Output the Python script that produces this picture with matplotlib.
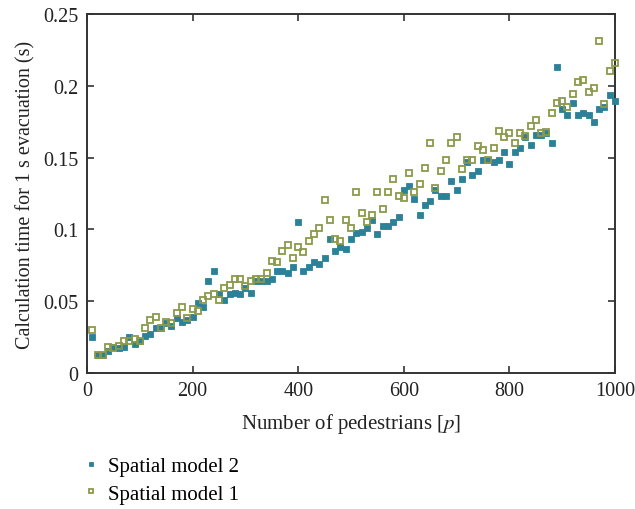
import matplotlib
matplotlib.use("Agg")
import matplotlib.pyplot as plt
from matplotlib.ticker import FuncFormatter

pedestrians = list(range(10, 1001, 10))

model2 = [
    0.0248, 0.0127, 0.0127, 0.0155, 0.0183, 0.0172, 0.0183, 0.0248, 0.0204, 0.0220,
    0.0260, 0.0274, 0.0313, 0.0313, 0.0350, 0.0325, 0.0380, 0.0353, 0.0369, 0.0392,
    0.0485, 0.0457, 0.0643, 0.0708, 0.0550, 0.0510, 0.0550, 0.0560, 0.0550, 0.0590,
    0.0560, 0.0643, 0.0643, 0.0643, 0.0654, 0.0708, 0.0708, 0.0694, 0.0735, 0.1049,
    0.0708, 0.0735, 0.0775, 0.0761, 0.0800, 0.0930, 0.0851, 0.0879, 0.0865, 0.0930,
    0.0972, 0.0984, 0.1009, 0.1063, 0.0970, 0.1023, 0.1023, 0.1049, 0.1088, 0.1274,
    0.1300, 0.1209, 0.1102, 0.1167, 0.1195, 0.1274, 0.1234, 0.1234, 0.1339, 0.1274,
    0.1352, 0.1470, 0.1378, 0.1404, 0.1485, 0.1485, 0.1470, 0.1485, 0.1536, 0.1457,
    0.1536, 0.1564, 0.1640, 0.1590, 0.1657, 0.1657, 0.1668, 0.1603, 0.2130, 0.1840,
    0.1800, 0.1879, 0.1800, 0.1814, 0.1800, 0.1749, 0.1840, 0.1854, 0.1933, 0.1893,
]

model1 = [
    0.0302, 0.0127, 0.0127, 0.0180, 0.0172, 0.0186, 0.0220, 0.0220, 0.0234, 0.0220,
    0.0313, 0.0367, 0.0392, 0.0313, 0.0353, 0.0350, 0.0420, 0.0457, 0.0380, 0.0445,
    0.0430, 0.0510, 0.0536, 0.0550, 0.0510, 0.0590, 0.0615, 0.0654, 0.0654, 0.0603,
    0.0643, 0.0654, 0.0654, 0.0694, 0.0780, 0.0775, 0.0851, 0.0891, 0.0798, 0.0879,
    0.0840, 0.0917, 0.0970, 0.1009, 0.1205, 0.1063, 0.0930, 0.0917, 0.1063, 0.1009,
    0.1260, 0.1116, 0.1049, 0.1102, 0.1260, 0.1141, 0.1260, 0.1350, 0.1234, 0.1220,
    0.1392, 0.1260, 0.1313, 0.1429, 0.1603, 0.1285, 0.1404, 0.1485, 0.1603, 0.1643,
    0.1418, 0.1485, 0.1485, 0.1578, 0.1550, 0.1485, 0.1564, 0.1682, 0.1643, 0.1668,
    0.1603, 0.1668, 0.1652, 0.1722, 0.1761, 0.1668, 0.1680, 0.1814, 0.1879, 0.1893,
    0.1854, 0.1944, 0.2023, 0.2037, 0.1958, 0.1984, 0.2313, 0.1870, 0.2102, 0.2156,
]

xticks = [0, 200, 400, 600, 800, 1000]
yticks = [0, 0.05, 0.1, 0.15, 0.2, 0.25]

plt.rcParams['font.family'] = ['Liberation Serif', 'DejaVu Serif']
plt.rcParams['mathtext.fontset'] = 'stix'

teal = '#2b8197'
olive = '#8a9a4a'

fig = plt.figure(figsize=(6.35, 5.1), dpi=100)
ax = fig.add_axes([87/635, 1 - 374/510, (615-87)/635, (374-15)/510])

h2, = ax.plot(pedestrians, model2, linestyle='none', marker='s', markersize=4.6,
              markerfacecolor=teal, markeredgecolor=teal, markeredgewidth=0.6,
              label='Spatial model 2', clip_on=False, zorder=3)
h1, = ax.plot(pedestrians, model1, linestyle='none', marker='s', markersize=4.6,
              markerfacecolor='none', markeredgecolor=olive, markeredgewidth=1.3,
              label='Spatial model 1', clip_on=False, zorder=4)

ax.set_xlim(0, 1000)
ax.set_ylim(0, 0.25)
ax.set_xticks(xticks)
ax.set_yticks(yticks)
ax.yaxis.set_major_formatter(FuncFormatter(lambda v, p: f'{v:g}'))
ax.tick_params(direction='in', top=True, right=True, length=5, width=1.2,
               labelsize=14.5, colors='#333333', labelcolor='#222222', pad=6)
for s in ax.spines.values():
    s.set_linewidth(1.4)
    s.set_color('#333333')

ax.set_xlabel('Number of pedestrians [$p$]', fontsize=15, color='#222222', labelpad=8)
ax.set_ylabel('Calculation time for 1 s evacuation (s)', fontsize=14.5, color='#222222', labelpad=6)

leg = fig.legend(handles=[h2, h1], loc='lower left', bbox_to_anchor=(0.11, -0.018),
                 frameon=False, fontsize=15, handlelength=0.6, handletextpad=0.55,
                 labelspacing=0.38, markerscale=0.75, borderpad=0.2)

fig.savefig('out.png', dpi=100)
